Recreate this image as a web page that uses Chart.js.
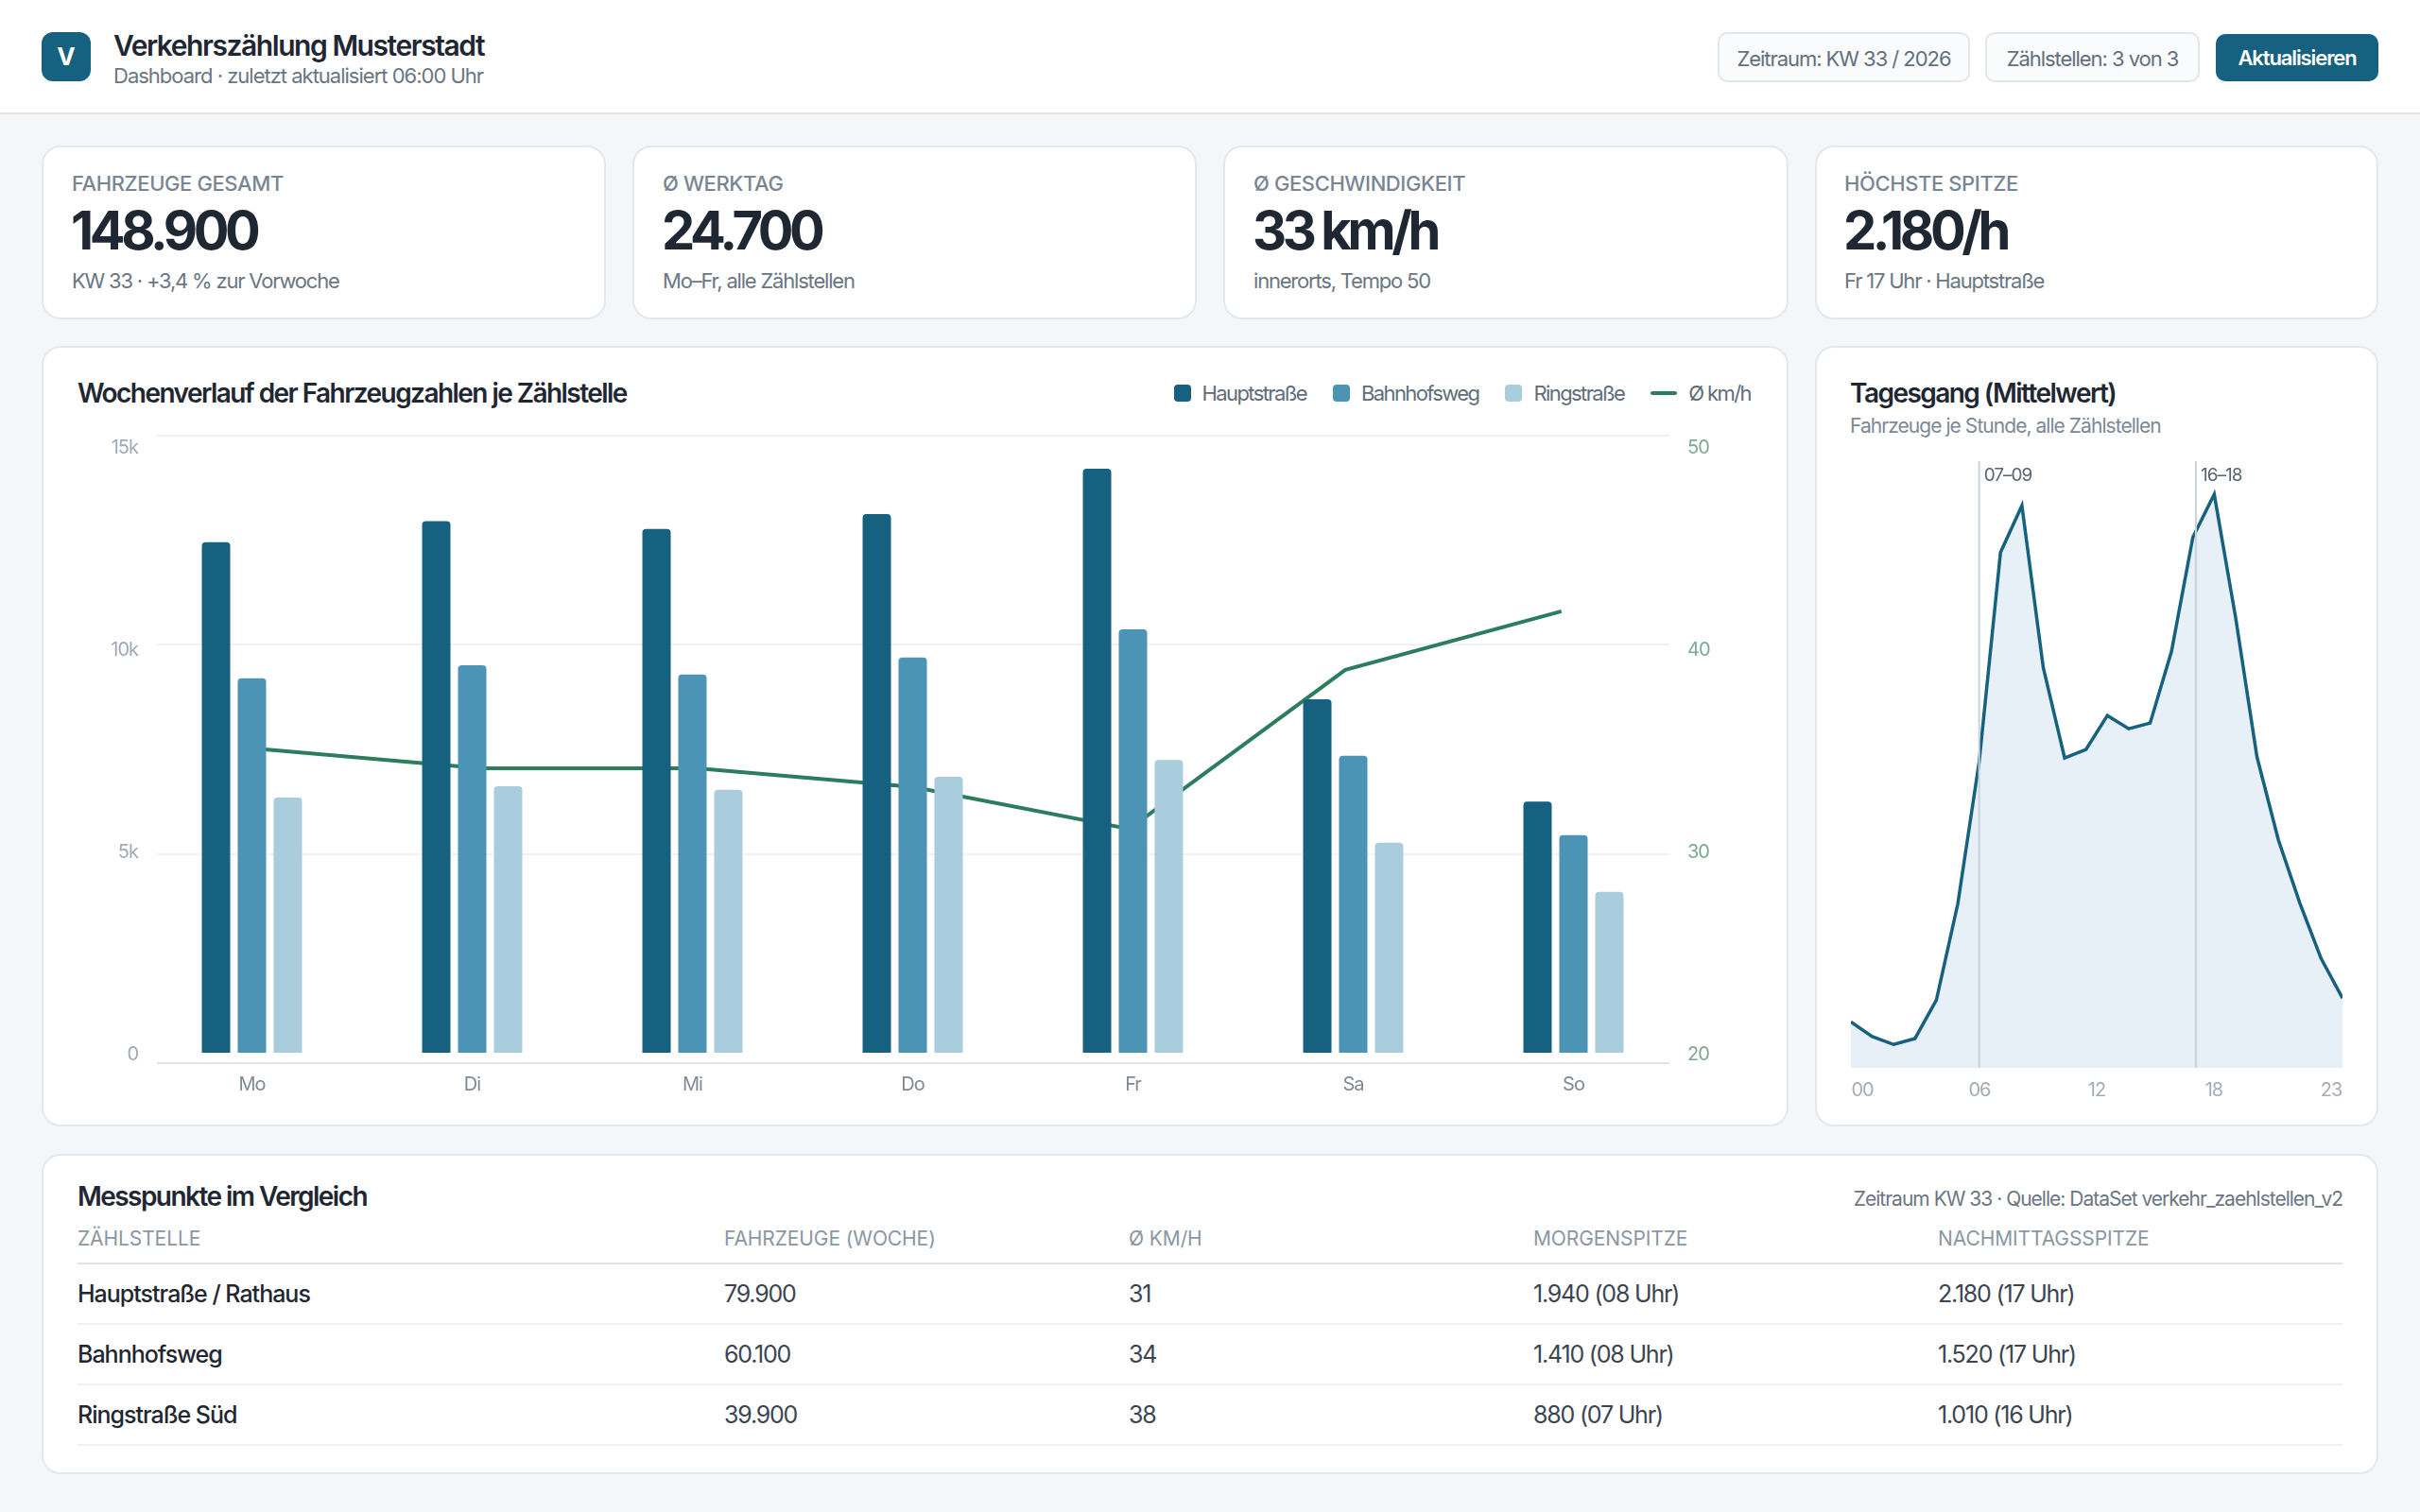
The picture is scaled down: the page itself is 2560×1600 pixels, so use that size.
<!DOCTYPE html>
<html lang="de">
<head>
<meta charset="utf-8">
<title>Verkehrszählung Musterstadt</title>
<script src="https://cdn.jsdelivr.net/npm/chart.js@4"></script>
<style>
* { box-sizing: border-box; margin: 0; padding: 0; }
html, body { width: 2560px; height: 1600px; overflow: hidden; background: #f4f6f8; font-family: Inter, sans-serif; color: #1f2733; }
.card { position: absolute; background: #fff; border: 2px solid #e3e8ed; border-radius: 20px; }
#topbar { position: absolute; left: 0; top: 0; width: 2560px; height: 121px; background: #fff; border-bottom: 2px solid #e1e6eb; }
#logo { position: absolute; left: 44px; top: 34px; width: 52px; height: 52px; border-radius: 12px; background: #15617f; color: #fff; font-weight: 700; font-size: 26px; line-height: 52px; text-align: center; }
#title { position: absolute; left: 120px; top: 30px; font-size: 30px; line-height: 36px; font-weight: 600; letter-spacing: -1.45px; white-space: nowrap; }
#subtitle { position: absolute; left: 120px; top: 66px; font-size: 22px; line-height: 28px; color: #6b7683; white-space: nowrap; letter-spacing: -1px; }
.pill { position: absolute; top: 34px; height: 53px; line-height: 52px; text-align: center; background: #fafbfd; border: 2px solid #e1e6ec; border-radius: 10px; font-size: 22px; color: #646f7c; white-space: nowrap; letter-spacing: -1.05px; }
#refresh { position: absolute; left: 2344px; top: 36px; width: 172px; height: 50px; line-height: 51px; text-align: center; background: #15617f; color: #fff; border-radius: 10px; font-size: 22px; font-weight: 600; letter-spacing: -1.1px; }
.kpi-label { position: absolute; left: 30px; top: 23px; font-size: 22px; line-height: 30px; font-weight: 500; color: #7a8593; letter-spacing: -0.4px; white-space: nowrap; }
.kpi-value { position: absolute; left: 29px; top: 55px; font-size: 56px; line-height: 66px; font-weight: 700; letter-spacing: -4.4px; white-space: nowrap; }
.kpi-note { position: absolute; left: 30px; top: 126px; font-size: 22px; line-height: 30px; color: #6b7683; white-space: nowrap; letter-spacing: -1.2px; }
.panel-title { position: absolute; font-size: 28px; line-height: 36px; font-weight: 600; letter-spacing: -1.55px; white-space: nowrap; }
#legend { position: absolute; right: 708px; top: 400px; height: 32px; display: flex; align-items: center; gap: 28px; font-size: 22px; color: #626d7a; white-space: nowrap; letter-spacing: -1.6px; }
#legend span.item { display: flex; align-items: center; gap: 12px; }
#legend i { display: block; width: 18px; height: 18px; border-radius: 4px; }
#legend i.stroke { width: 28px; height: 4px; border-radius: 2px; }
#tagesSub { position: absolute; left: 1957px; top: 437px; font-size: 21px; line-height: 28px; color: #7d8896; white-space: nowrap; letter-spacing: -0.95px; }
canvas { position: absolute; display: block; }
#tableNote { position: absolute; right: 82px; top: 1255px; font-size: 21px; line-height: 28px; color: #6b7683; white-space: nowrap; letter-spacing: -1px; }
table { position: absolute; left: 82px; top: 1284px; width: 2396px; border-collapse: separate; border-spacing: 0; table-layout: fixed; }
th { height: 54px; text-align: left; font-size: 21px; font-weight: 400; color: #8b96a3; border-bottom: 2px solid #dfe4e9; padding: 0; letter-spacing: -0.1px; }
td { height: 64px; font-size: 25px; color: #3b4552; border-bottom: 2px solid #eff2f5; padding: 0; letter-spacing: -1.2px; }
td:first-child { font-weight: 500; color: #1f2733; letter-spacing: -1px; }
</style>
</head>
<body>
<div id="topbar">
  <div id="logo">V</div>
  <div id="title">Verkehrszählung Musterstadt</div>
  <div id="subtitle">Dashboard · zuletzt aktualisiert 06:00 Uhr</div>
  <div class="pill" style="left:1817px;width:267px">Zeitraum: KW 33 / 2026</div>
  <div class="pill" style="left:2100px;width:227px">Zählstellen: 3 von 3</div>
  <div id="refresh">Aktualisieren</div>
</div>

<div class="card" style="left:44px;top:154px;width:597px;height:184px">
  <div class="kpi-label">FAHRZEUGE GESAMT</div><div class="kpi-value">148.900</div><div class="kpi-note">KW 33 · +3,4 % zur Vorwoche</div>
</div>
<div class="card" style="left:669px;top:154px;width:597px;height:184px">
  <div class="kpi-label">Ø WERKTAG</div><div class="kpi-value">24.700</div><div class="kpi-note">Mo–Fr, alle Zählstellen</div>
</div>
<div class="card" style="left:1294px;top:154px;width:598px;height:184px">
  <div class="kpi-label">Ø GESCHWINDIGKEIT</div><div class="kpi-value">33 km/h</div><div class="kpi-note">innerorts, Tempo 50</div>
</div>
<div class="card" style="left:1920px;top:154px;width:596px;height:184px">
  <div class="kpi-label" style="left:29px">HÖCHSTE SPITZE</div><div class="kpi-value" style="left:28px">2.180/h</div><div class="kpi-note" style="left:29px">Fr 17 Uhr · Hauptstraße</div>
</div>

<div class="card" style="left:44px;top:366px;width:1848px;height:826px"></div>
<div class="panel-title" style="left:82px;top:398px">Wochenverlauf der Fahrzeugzahlen je Zählstelle</div>
<div id="legend">
  <span class="item"><i style="background:#15617f"></i>Hauptstraße</span>
  <span class="item"><i style="background:#4b94b6"></i>Bahnhofsweg</span>
  <span class="item"><i style="background:#a9cddd"></i>Ringstraße</span>
  <span class="item"><i class="stroke" style="background:#2b7d5c"></i>Ø km/h</span>
</div>
<canvas id="kmhChart" width="1612" height="676" style="left:160px;top:455px"></canvas>
<canvas id="wochenChart" width="1770" height="720" style="left:82px;top:440px"></canvas>

<div class="card" style="left:1920px;top:366px;width:596px;height:826px"></div>
<div class="panel-title" style="left:1957px;top:398px">Tagesgang (Mittelwert)</div>
<div id="tagesSub">Fahrzeuge je Stunde, alle Zählstellen</div>
<canvas id="tagesChart" width="520" height="700" style="left:1958px;top:470px"></canvas>

<div class="card" style="left:44px;top:1221px;width:2472px;height:339px"></div>
<div class="panel-title" style="left:82px;top:1248px">Messpunkte im Vergleich</div>
<div id="tableNote">Zeitraum KW 33 · Quelle: DataSet verkehr_zaehlstellen_v2</div>
<table>
  <colgroup><col style="width:684px"><col style="width:428px"><col style="width:428px"><col style="width:428px"><col style="width:428px"></colgroup>
  <thead><tr><th>ZÄHLSTELLE</th><th>FAHRZEUGE (WOCHE)</th><th>Ø KM/H</th><th>MORGENSPITZE</th><th>NACHMITTAGSSPITZE</th></tr></thead>
  <tbody>
    <tr><td>Hauptstraße / Rathaus</td><td>79.900</td><td>31</td><td>1.940 (08 Uhr)</td><td>2.180 (17 Uhr)</td></tr>
    <tr><td>Bahnhofsweg</td><td>60.100</td><td>34</td><td>1.410 (08 Uhr)</td><td>1.520 (17 Uhr)</td></tr>
    <tr><td>Ringstraße Süd</td><td>39.900</td><td>38</td><td>880 (07 Uhr)</td><td>1.010 (16 Uhr)</td></tr>
  </tbody>
</table>

<script>
const days = ["Mo", "Di", "Mi", "Do", "Fr", "Sa", "So"];
const hauptstrasse = [12620, 13140, 12950, 13320, 14440, 8740, 6210];
const bahnhofsweg = [9260, 9580, 9350, 9770, 10470, 7340, 5380];
const ringstrasse = [6310, 6590, 6500, 6820, 7240, 5190, 3980];
const kmh = [35, 34.1, 34.1, 33.2, 31.2, 38.8, 41.6];
const countTicks = [0, 5000, 10000, 15000];
const countTickLabels = ["0", "5k", "10k", "15k"];
const kmhTicks = [20, 30, 40, 50];

const hours = ["00","01","02","03","04","05","06","07","08","09","10","11","12","13","14","15","16","17","18","19","20","21","22","23"];
const tagesgang = [122, 83, 62, 78, 180, 435, 812, 1368, 1492, 1062, 822, 845, 935, 900, 915, 1105, 1408, 1522, 1195, 825, 605, 438, 290, 185];
const hourTicks = ["00", "06", "12", "18", "23"];
const peakHours = [6, 16.14];
const peakLabels = ["07–09", "16–18"];

Chart.defaults.font.family = "Inter, sans-serif";

const tightText = {
  id: "tightText",
  beforeDraw(chart) { chart.ctx.letterSpacing = "-1px"; }
};

const peakLines = {
  id: "peakLines",
  afterDatasetsDraw(chart) {
    const a = chart.chartArea, c = chart.ctx;
    peakHours.forEach(function(h, i) {
      const x = chart.scales.x.getPixelForValue(h);
      c.fillStyle = "#c6d3db";
      c.fillRect(x - 1, a.top, 2, a.bottom - a.top);
      c.fillStyle = "#5a6571";
      c.font = "19px Inter, sans-serif";
      c.textAlign = "left";
      c.textBaseline = "middle";
      c.fillText(peakLabels[i], x + 5, a.top + 15);
    });
  }
};

// grid and speed line sit on their own canvas, under the bars
new Chart("kmhChart", {
  type: "line",
  data: {
    labels: days,
    datasets: [{ label: "Ø km/h", data: kmh, borderColor: "#2b7d5c", borderWidth: 4, pointRadius: 0, tension: 0, fill: false }]
  },
  options: {
    responsive: false, animation: false, devicePixelRatio: 1,
    layout: { autoPadding: false, padding: 6 },
    plugins: { legend: { display: false }, tooltip: { enabled: false } },
    scales: {
      x: { type: "category", display: false, offset: true },
      y: {
        min: 20, max: 50,
        border: { display: false },
        grid: {
          drawTicks: false, lineWidth: 2,
          color(ctx) { return ctx.tick.value === 20 ? "#dfe4e9" : "#eff1f4"; }
        },
        ticks: { display: false, stepSize: 10 },
        afterFit(s) { s.width = 0; }
      }
    }
  }
});

function barSet(label, data, color) {
  return {
    label: label, data: data, backgroundColor: color,
    categoryPercentage: 0.489, barPercentage: 0.79,
    borderRadius: { topLeft: 4, topRight: 4 }, borderSkipped: false
  };
}

new Chart("wochenChart", {
  type: "bar",
  data: {
    labels: days,
    datasets: [
      barSet("Hauptstraße", hauptstrasse, "#15617f"),
      barSet("Bahnhofsweg", bahnhofsweg, "#4b94b6"),
      barSet("Ringstraße", ringstrasse, "#a9cddd")
    ]
  },
  options: {
    responsive: false, animation: false, devicePixelRatio: 1,
    layout: { autoPadding: false, padding: { top: 32 } },
    plugins: { legend: { display: false }, tooltip: { enabled: false } },
    scales: {
      x: {
        type: "category", offset: true,
        grid: { display: false, drawTicks: false }, border: { display: false },
        ticks: { color: "#7f8a97", font: { size: 20 }, padding: 22, maxRotation: 0 },
        afterFit(s) { s.height = 46; }
      },
      y: {
        position: "left", min: 0, max: 15000,
        grid: { display: false, drawTicks: false }, border: { display: false },
        // labels sit a touch below their value, as in the original
        afterBuildTicks(s) { s.ticks = countTicks.map(function(v) { return { value: v - 47 }; }); },
        ticks: {
          autoSkip: false, color: "#a0aab5", font: { size: 20 }, padding: 4,
          callback(v, i) { return countTickLabels[i]; }
        },
        afterFit(s) { s.width = 68; }
      },
      yKmh: {
        position: "right", min: 20, max: 50,
        grid: { display: false, drawTicks: false }, border: { display: false },
        afterBuildTicks(s) { s.ticks = kmhTicks.map(function(v) { return { value: v - 0.093 }; }); },
        ticks: {
          autoSkip: false, color: "#7fa992", font: { size: 20 }, padding: 4,
          callback(v, i) { return String(kmhTicks[i]); }
        },
        afterFit(s) { s.width = 71; }
      }
    }
  },
  plugins: [tightText]
});

new Chart("tagesChart", {
  type: "line",
  data: {
    labels: hours,
    datasets: [{
      data: tagesgang, borderColor: "#15617f", borderWidth: 3.5, backgroundColor: "#e7f0f6",
      pointRadius: 0, tension: 0, fill: "origin"
    }]
  },
  options: {
    responsive: false, animation: false, devicePixelRatio: 1,
    layout: { autoPadding: false, padding: { top: 18 } },
    plugins: { legend: { display: false }, tooltip: { enabled: false } },
    scales: {
      x: { type: "category", display: false, offset: false },
      xHours: {
        type: "linear", axis: "x", position: "bottom", min: -0.097, max: 4.097,
        grid: { display: false, drawTicks: false }, border: { display: false },
        afterBuildTicks(s) { s.ticks = hourTicks.map(function(_, i) { return { value: i }; }); },
        ticks: {
          autoSkip: false, maxRotation: 0, color: "#a3adb8", font: { size: 20 }, padding: 12,
          callback(v) { return hourTicks[v]; }
        },
        afterFit(s) { s.height = 40; s.paddingLeft = 0; s.paddingRight = 0; }
      },
      y: { display: false, min: 0, max: 1610 }
    }
  },
  plugins: [tightText, peakLines]
});
</script>
</body>
</html>
